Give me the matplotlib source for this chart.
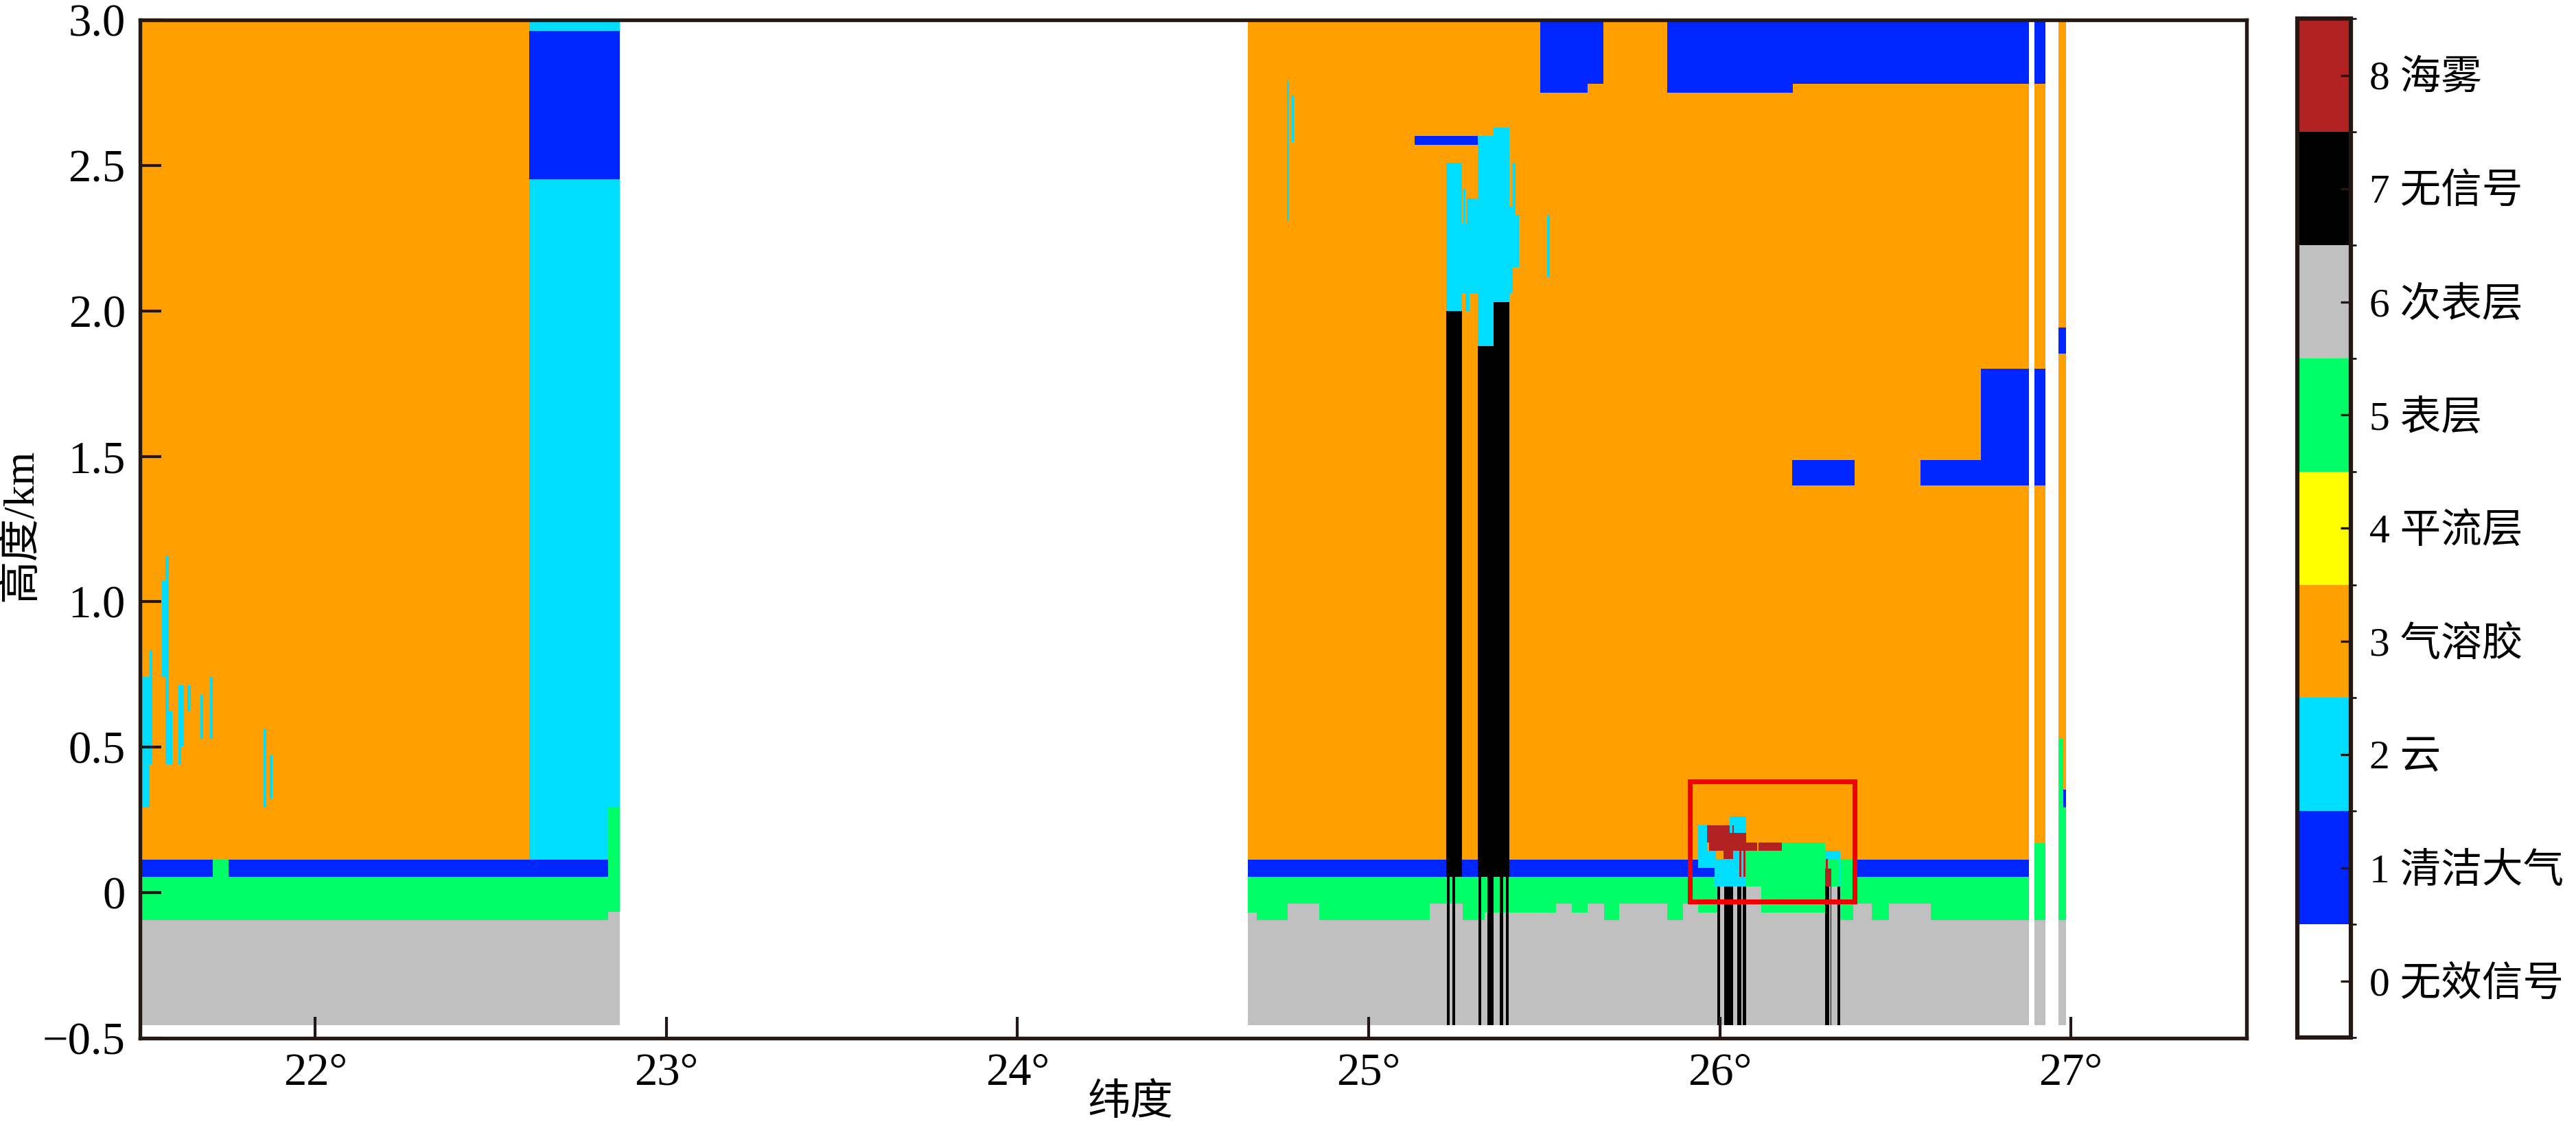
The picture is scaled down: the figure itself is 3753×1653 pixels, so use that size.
import numpy as np
import matplotlib
matplotlib.use('Agg')
import matplotlib.pyplot as plt
import matplotlib.cm as cm
from matplotlib.colors import ListedColormap, BoundaryNorm
from matplotlib.patches import Rectangle

plt.rcParams['font.family'] = ['Liberation Serif', 'Noto Sans CJK SC']

# classes of the feature mask
class_labels = ['0 无效信号', '1 清洁大气', '2 云', '3 气溶胶', '4 平流层',
                '5 表层', '6 次表层', '7 无信号', '8 海雾']
class_colors = ['#FFFFFF', '#0026FF', '#00DDFF', '#FFA000', '#FFFF00',
                '#00FF66', '#C0C0C0', '#000000', '#B22222']

lat_ticks = [22, 23, 24, 25, 26, 27]
height_ticks = [-0.5, 0, 0.5, 1.0, 1.5, 2.0, 2.5, 3.0]
height_tick_labels = ['\u22120.5', '0', '0.5', '1.0', '1.5', '2.0', '2.5', '3.0']

# latitude ranges that hold valid profiles
seg_start = [21.5, 24.655, 26.895, 26.963]
seg_end = [22.866, 26.879, 26.925, 26.984]

# default layering of a profile: class, base (km), top (km)
base_class = [6, 5, 1, 3]
base_bottom = [-0.455, -0.096, 0.055, 0.113]
base_top = [-0.096, 0.055, 0.113, 3.0]

# (lat0, lat1, h0, h1) per class
surface_cells = [
    (21.708, 21.752, 0.055, 0.113),
    (22.833, 22.866, -0.066, 0.293),
    (26.895, 26.925, -0.096, 0.170),
    (26.963, 26.977, -0.096, 0.529),
    (26.977, 26.984, -0.096, 0.293),
    (26.073, 26.174, -0.096, 0.144),
    (26.174, 26.298, -0.096, 0.173),
    (26.298, 26.342, -0.096, 0.113),
    (26.342, 26.378, -0.096, 0.113),
]
subsurface_cells = [
    (22.833, 22.866, -0.455, -0.066),
    (24.655, 24.679, -0.455, -0.067),
    (24.768, 24.858, -0.455, -0.037),
    (25.173, 25.267, -0.455, -0.037),
    (25.329, 25.531, -0.455, -0.067),
    (25.531, 25.577, -0.455, -0.037),
    (25.577, 25.622, -0.455, -0.067),
    (25.622, 25.668, -0.455, -0.037),
    (25.712, 25.848, -0.455, -0.037),
    (25.893, 25.937, -0.455, -0.037),
    (25.937, 25.991, -0.455, -0.067),
    (25.991, 26.117, -0.455, 0.023),
    (26.117, 26.298, -0.455, -0.067),
    (26.298, 26.342, -0.455, 0.023),
    (26.378, 26.431, -0.455, -0.037),
    (26.480, 26.600, -0.455, -0.037),
]
clean_cells = [
    (22.609, 22.866, 2.453, 2.962),
    (25.129, 25.309, 2.571, 2.600),
    (25.487, 25.622, 2.751, 3.0),
    (25.622, 25.667, 2.779, 3.0),
    (25.848, 26.207, 2.751, 3.0),
    (26.207, 26.879, 2.779, 3.0),
    (26.895, 26.925, 2.779, 3.0),
    (26.205, 26.382, 1.400, 1.487),
    (26.569, 26.742, 1.400, 1.487),
    (26.742, 26.879, 1.400, 1.800),
    (26.895, 26.925, 1.400, 1.800),
    (26.963, 26.984, 1.853, 1.943),
    (26.977, 26.984, 0.293, 0.356),
]
cloud_cells = [
    # thin clouds, left pass
    (21.504, 21.528, 0.293, 0.742),
    (21.528, 21.535, 0.442, 0.832),
    (21.563, 21.573, 0.742, 1.072),
    (21.573, 21.582, 0.442, 1.161),
    (21.582, 21.591, 0.442, 0.622),
    (21.609, 21.617, 0.442, 0.712),
    (21.617, 21.625, 0.502, 0.712),
    (21.635, 21.644, 0.622, 0.712),
    (21.672, 21.680, 0.531, 0.681),
    (21.699, 21.707, 0.531, 0.742),
    (21.852, 21.860, 0.293, 0.562),
    (21.870, 21.878, 0.322, 0.472),
    (22.609, 22.833, 0.113, 2.453),
    (22.833, 22.866, 0.293, 2.453),
    (22.609, 22.866, 2.962, 3.0),
    # right pass
    (24.766, 24.772, 2.310, 2.790),
    (24.780, 24.786, 2.580, 2.740),
    (25.220, 25.264, 2.000, 2.509),
    (25.264, 25.309, 2.060, 2.300),
    (25.269, 25.273, 2.300, 2.420),
    (25.278, 25.309, 2.300, 2.388),
    (25.273, 25.286, 2.000, 2.060),
    (25.309, 25.354, 1.879, 2.600),
    (25.354, 25.399, 2.031, 2.629),
    (25.399, 25.408, 2.060, 2.358),
    (25.408, 25.417, 2.149, 2.509),
    (25.417, 25.426, 2.149, 2.331),
    (25.506, 25.514, 2.118, 2.331),
    # inside the fog box
    (25.937, 25.962, 0.085, 0.233),
    (25.962, 25.988, 0.085, 0.144),
    (25.983, 26.037, 0.023, 0.114),
    (26.037, 26.073, 0.023, 0.144),
    (26.027, 26.073, 0.204, 0.263),
    (26.298, 26.342, 0.113, 0.144),
    (26.337, 26.342, 0.023, 0.113),
]
nosignal_cells = [
    (25.220, 25.264, 0.055, 2.000),
    (25.309, 25.354, 0.055, 1.879),
    (25.354, 25.399, 0.055, 2.031),
    (25.2216, 25.2291, -0.455, 0.055),
    (25.2366, 25.2441, -0.455, 0.055),
    (25.3115, 25.3190, -0.455, 0.055),
    (25.3364, 25.3539, -0.455, 0.055),
    (25.3713, 25.3813, -0.455, 0.055),
    (25.3888, 25.3975, -0.455, 0.055),
    (25.991, 26.000, -0.455, 0.023),
    (26.011, 26.036, -0.455, 0.023),
    (26.047, 26.060, -0.455, 0.023),
    (26.063, 26.073, -0.455, 0.023),
    (26.298, 26.309, -0.455, 0.023),
    (26.313, 26.316, -0.455, 0.023),
    (26.334, 26.342, -0.455, 0.023),
]
fog_cells = [
    (25.962, 26.027, 0.173, 0.233),
    (26.027, 26.073, 0.173, 0.204),
    (25.967, 26.105, 0.144, 0.173),
    (26.008, 26.037, 0.114, 0.144),
    (26.109, 26.174, 0.144, 0.173),
    (26.034, 26.038, 0.204, 0.233),
    (26.053, 26.060, 0.055, 0.144),
    (26.066, 26.071, 0.055, 0.144),
    (26.298, 26.315, 0.023, 0.082),
    (26.300, 26.305, 0.082, 0.114),
]

# highlighted sea-fog area
fog_box_lat = (25.915, 26.385)
fog_box_h = (-0.031, 0.382)

# build the mask grid
lat0, lat1, dlat = 21.5, 27.5, 0.001
h0, h1, dh = -0.5, 3.0, 0.0025
nx = int(round((lat1 - lat0) / dlat))
ny = int(round((h1 - h0) / dh))
mask = np.zeros((ny, nx), dtype=np.int8)


def fill(a, b, lo, hi, value):
    i0 = int(round((a - lat0) / dlat))
    i1 = int(round((b - lat0) / dlat))
    j0 = int(round((lo - h0) / dh))
    j1 = int(round((hi - h0) / dh))
    mask[j0:j1, i0:i1] = value


for a, b in zip(seg_start, seg_end):
    for c, lo, hi in zip(base_class, base_bottom, base_top):
        fill(a, b, lo, hi, c)
for cells, c in [(surface_cells, 5), (subsurface_cells, 6), (clean_cells, 1),
                 (cloud_cells, 2), (nosignal_cells, 7), (fog_cells, 8)]:
    for a, b, lo, hi in cells:
        fill(a, b, lo, hi, c)

cmap = ListedColormap(class_colors)
norm = BoundaryNorm(np.arange(-0.5, 9.5, 1.0), cmap.N)

fig = plt.figure(figsize=(12.51, 5.51), dpi=300)
ax = fig.add_axes([0.05425, 0.0855, 0.8178, 0.8967])
cax = fig.add_axes([0.8918, 0.0859, 0.0208, 0.8975])

ax.imshow(mask, origin='lower', extent=[lat0, lat1, h0, h1], aspect='auto',
          interpolation='nearest', cmap=cmap, norm=norm)
ax.add_patch(Rectangle((fog_box_lat[0], fog_box_h[0]),
                       fog_box_lat[1] - fog_box_lat[0], fog_box_h[1] - fog_box_h[0],
                       fill=False, edgecolor='#F20000', linewidth=1.7, zorder=5))

ax.set_xlim(lat0, lat1)
ax.set_ylim(h0, h1)
ax.set_xticks(lat_ticks)
ax.set_xticklabels([f'{v}°' for v in lat_ticks])
ax.set_yticks(height_ticks)
ax.set_yticklabels(height_tick_labels)
ax.tick_params(direction='in', length=7.5, width=1.0, top=False, right=False,
               labelsize=16, color='#231815')
ax.tick_params(axis='x', pad=5)
ax.tick_params(axis='y', pad=5)
for s in ax.spines.values():
    s.set_linewidth(1.3)
    s.set_color('#231815')

fig.text(0.4389, 0.027, '纬度', ha='center', va='center', fontsize=15)
fig.text(0.0083, 0.537, '高度/km', ha='center', va='center', rotation=90, fontsize=15)

sm = cm.ScalarMappable(norm=norm, cmap=cmap)
cb = fig.colorbar(sm, cax=cax, ticks=range(9))
cb.ax.set_yticklabels(class_labels)
cb.ax.tick_params(direction='in', length=3.5, width=0.8, labelsize=14.3, pad=6.5,
                  color='#231815')
cb.outline.set_linewidth(1.5)
cb.outline.set_edgecolor('#231815')

fig.savefig('out.png', dpi=300)
